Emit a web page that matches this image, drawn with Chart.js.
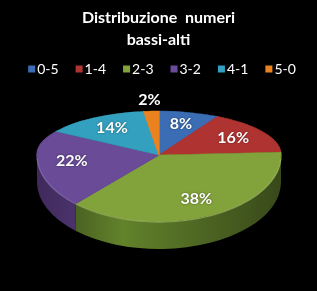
<!DOCTYPE html>
<html><head><meta charset="utf-8">
<script src="https://cdn.jsdelivr.net/npm/chart.js@4/dist/chart.umd.min.js"></script>
<style>html,body{margin:0;padding:0;background:#000;overflow:hidden}canvas{display:block}</style>
</head><body>
<canvas id="c" width="317" height="291"></canvas>
<script>
const categories = ['0-5','1-4','2-3','3-2','4-1','5-0'];
const percentValues = [8,16,38,22,14,2];
const titleLines = ['Distribuzione  numeri','bassi-alti'];
const faceColors = ['#3A6DB4','#AF3431','#82A23B','#694B97','#32A0BE','#EA831F'];
const sideLight = ['#2F5A96','#8E2826','#62822B','#583D7E','#29849E','#C46A15'];
const sideDark  = ['#1F3D66','#5E1A18','#38491A','#3F2A5B','#1B5A6C','#84470E'];

const GEO = {cx:159, cy:155, rx:122, ryTop:44, ryBot:67, depth:27, labelF:0.72, outF:1.25};

function applyHalf(ctx, chart, el, top){
  const r = el.outerRadius;
  ctx.beginPath();
  if (top) ctx.rect(0, 0, chart.width, GEO.cy);
  else ctx.rect(0, GEO.cy, chart.width, chart.height - GEO.cy);
  ctx.clip();
  ctx.translate(GEO.cx, GEO.cy);
  ctx.scale(GEO.rx / r, (top ? GEO.ryTop : GEO.ryBot) / r);
  ctx.translate(-el.x, -el.y);
}

const pie3d = {
  id: 'pie3d',
  beforeDatasetsDraw(chart){
    const ctx = chart.ctx;
    const els = chart.getDatasetMeta(0).data;
    if (!els.length) return;
    ctx.save();
    els.forEach((el, i) => {
      const s = Math.max(el.startAngle, 0), e = Math.min(el.endAngle, Math.PI);
      if (e <= s) return;
      const g = ctx.createLinearGradient(GEO.cx - GEO.rx, 0, GEO.cx + GEO.rx, 0);
      g.addColorStop(0, sideDark[i]);
      g.addColorStop(0.35, sideLight[i]);
      g.addColorStop(1, sideDark[i]);
      ctx.beginPath();
      ctx.ellipse(GEO.cx, GEO.cy, GEO.rx, GEO.ryBot, 0, s, e);
      ctx.ellipse(GEO.cx, GEO.cy + GEO.depth, GEO.rx, GEO.ryBot, 0, e, s, true);
      ctx.closePath();
      ctx.fillStyle = g;
      ctx.fill();
    });
    ctx.restore();
    ctx.save();
    applyHalf(ctx, chart, els[0], true);
    els.forEach(el => el.draw(ctx));
    ctx.restore();
    ctx.save();
    applyHalf(ctx, chart, els[0], false);
  },
  afterDatasetsDraw(chart){
    const ctx = chart.ctx;
    ctx.restore();
    const els = chart.getDatasetMeta(0).data;
    const data = chart.data.datasets[0].data;
    ctx.save();
    ctx.beginPath();
    ctx.ellipse(GEO.cx, GEO.cy, GEO.rx, GEO.ryBot, 0, 0.05, Math.PI - 0.05);
    ctx.strokeStyle = 'rgba(255,255,255,0.12)';
    ctx.lineWidth = 1.5;
    ctx.stroke();
    ctx.restore();
    ctx.save();
    ctx.font = 'bold 16px Lato';
    ctx.fillStyle = '#fff';
    ctx.textAlign = 'center';
    ctx.textBaseline = 'middle';
    ctx.shadowColor = 'rgba(0,0,0,0.5)';
    ctx.shadowBlur = 2;
    els.forEach((el, i) => {
      const mid = (el.startAngle + el.endAngle) / 2;
      const f = data[i] < 5 ? GEO.outF : GEO.labelF;
      const px = Math.cos(mid) * f, py = Math.sin(mid) * f;
      const x = GEO.cx + GEO.rx * px;
      const y = GEO.cy + (py < 0 ? GEO.ryTop : GEO.ryBot) * py;
      ctx.fillText(data[i] + '%', x, y);
    });
    ctx.restore();
  },
  afterDraw(chart){
    const ctx = chart.ctx;
    const labels = chart.data.labels;
    ctx.save();
    ctx.font = '14px Lato';
    ctx.textBaseline = 'middle';
    const box = 7, gap = 2, spacing = 17;
    const widths = labels.map(t => box + gap + ctx.measureText(t).width);
    const total = widths.reduce((a, b) => a + b, 0) + spacing * (labels.length - 1);
    let x = 162 - total / 2;
    const y = 69;
    labels.forEach((t, i) => {
      ctx.fillStyle = faceColors[i];
      ctx.fillRect(x, y - 3.5, box, box);
      ctx.fillStyle = '#fff';
      ctx.fillText(t, x + box + gap, y);
      x += widths[i] + spacing;
    });
    ctx.restore();
  }
};

new Chart(document.getElementById('c'), {
  type: 'pie',
  data: {
    labels: categories,
    datasets: [{
      data: percentValues,
      backgroundColor: faceColors,
      borderColor: faceColors,
      borderWidth: 1,
      borderJoinStyle: 'round'
    }]
  },
  options: {
    responsive: false,
    animation: false,
    events: [],
    plugins: {
      legend: { display: false },
      tooltip: { enabled: false },
      title: {
        display: true,
        text: titleLines,
        color: '#fff',
        font: { family: 'Lato', size: 16, weight: 'bold', lineHeight: 1.375 },
        padding: { top: 7, bottom: 40 }
      }
    }
  },
  plugins: [pie3d]
});
</script>
</body></html>
